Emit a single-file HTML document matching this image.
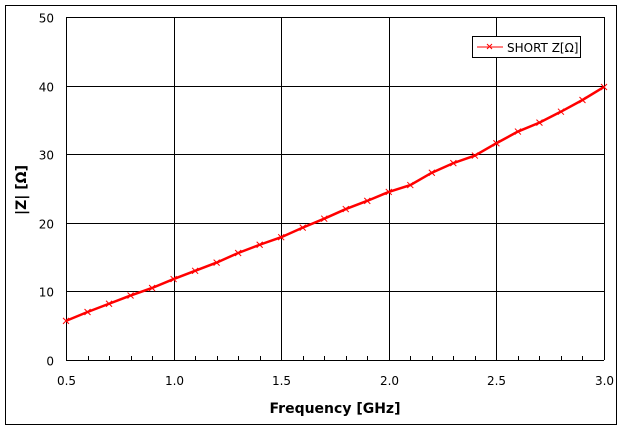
<!DOCTYPE html>
<html><head><meta charset="utf-8"><style>
body{margin:0;background:#fff;}
text{font-family:"DejaVu Sans","Liberation Sans",sans-serif;}
</style></head><body>
<svg id="chart" width="624" height="430" xmlns="http://www.w3.org/2000/svg">
<rect x="5.5" y="5.5" width="611" height="419" fill="#fff" stroke="#000" stroke-width="1"/>
<g id="grid"></g>
<g id="series"></g>
<g id="axes"></g>
<g>
<rect x="472.5" y="36.5" width="108" height="21" fill="#fff" stroke="#000"/>
<line x1="477" y1="47" x2="503" y2="47" stroke="#f00" stroke-width="1"/>
<path d="M487,44 l5,5 M492,44 l-5,5" stroke="#f00"/>
<text x="507" y="52" font-size="12" fill="#000">SHORT Z[Ω]</text>
</g>
<text x="335" y="413" font-size="14" font-weight="bold" text-anchor="middle">Frequency [GHz]</text>
<text transform="translate(26,190) rotate(-90)" font-size="14" font-weight="bold" text-anchor="middle">|Z| [Ω]</text>
</svg>
<script>
const freqs=[0.5,0.6,0.7,0.8,0.9,1.0,1.1,1.2,1.3,1.4,1.5,1.6,1.7,1.8,1.9,2.0,2.1,2.2,2.3,2.4,2.5,2.6,2.7,2.8,2.9,3.0];
const zValues=[5.7,7.0,8.2,9.4,10.5,11.8,13.0,14.2,15.6,16.8,17.9,19.3,20.6,22.0,23.2,24.5,25.5,27.3,28.7,29.8,31.6,33.3,34.6,36.2,37.9,39.8];
const xTicks=["0.5","1.0","1.5","2.0","2.5","3.0"];
const yTicks=["0","10","20","30","40","50"];
const L=66,R=604,T=17,B=360;
const sx=v=>L+(v-0.5)/2.5*(R-L);
const sy=v=>B-v/50*(B-T);
const NS="http://www.w3.org/2000/svg";
function mk(tag,attrs,parent){const e=document.createElementNS(NS,tag);for(const k in attrs)e.setAttribute(k,attrs[k]);parent.appendChild(e);return e;}
const grid=document.getElementById('grid'),axes=document.getElementById('axes'),series=document.getElementById('series');
xTicks.forEach(t=>{const x=Math.round(sx(+t))+0.5;
 const g=mk('line',{x1:x,y1:T,x2:x,y2:B,stroke:'#000'},grid);
 
 
 const lb=mk('text',{x:x,y:B+25,'font-size':12,'text-anchor':'middle'},axes);lb.textContent=t;
 
 });
yTicks.forEach(t=>{const y=Math.round(sy(+t))+0.5;
 const g=mk('line',{x1:L,y1:y,x2:R,y2:y,stroke:'#000'},grid);
 
 
 const lb=mk('text',{x:L-12,y:y+5,'font-size':12,'text-anchor':'end'},axes);lb.textContent=t;
 
 });
for(let i=0;i<=25;i++){const x=Math.round(sx(0.5+i*0.1))+0.5;mk('line',{x1:x,y1:B,x2:x,y2:B-4,stroke:'#000'},axes);}
const pts=freqs.map((f,i)=>sx(f)+','+sy(zValues[i])).join(' ');
const pl=mk('polyline',{points:pts,fill:'none',stroke:'#f00','stroke-width':2.5},series);


freqs.forEach((f,i)=>{const x=sx(f),y=sy(zValues[i]);
 const m=mk('path',{d:`M${x-3},${y-3}l6,6M${x+3},${y-3}l-6,6`,stroke:'#f00'},series);
 
 });
</script>
</body></html>
